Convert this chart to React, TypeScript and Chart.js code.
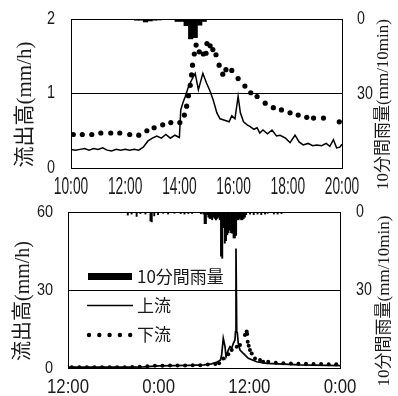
import React, { useEffect, useRef } from "react";
import { Chart, registerables } from "chart.js";

Chart.register(...registerables);

// ---------------- top panel (10:00 - 20:00) ----------------
const topXTicks = ["10:00", "12:00", "14:00", "16:00", "18:00", "20:00"];

const rainTopTimes = ["12:25", "12:35", "12:45", "12:55", "13:05", "13:15", "13:55", "14:05", "14:15", "14:25", "14:35", "14:45", "14:55"];
const rainTopValues = [0.5, 0.5, 1.2, 0.8, 0.5, 0.4, 1.0, 1.0, 2.7, 8.0, 7.5, 2.5, 1.0];

const upTopTimes = [
  "10:00", "10:10", "10:20", "10:30", "10:40", "10:50", "11:00", "11:10", "11:20", "11:30", "11:40", "11:50",
  "12:00", "12:10", "12:20", "12:30", "12:40", "12:50", "13:00", "13:10", "13:20", "13:30", "13:40", "13:50",
  "14:00", "14:03", "14:08", "14:13", "14:20", "14:27", "14:35", "14:42", "14:52", "15:00", "15:08", "15:15",
  "15:23", "15:30", "15:40", "15:50", "15:56", "16:03", "16:10", "16:15", "16:22", "16:30", "16:36", "16:45",
  "16:52", "16:58", "17:05", "17:15", "17:25", "17:35", "17:43", "17:55", "18:05", "18:16", "18:25", "18:34",
  "18:45", "18:55", "19:04", "19:15", "19:25", "19:33", "19:41", "19:48", "19:55", "20:00",
];
const upTopValues = [
  0.25, 0.24, 0.25, 0.26, 0.24, 0.26, 0.25, 0.27, 0.24, 0.23, 0.25, 0.24,
  0.25, 0.24, 0.25, 0.24, 0.28, 0.36, 0.4, 0.43, 0.4, 0.45, 0.4, 0.44,
  0.41, 0.78, 0.88, 0.96, 1.09, 1.18, 1.27, 1.05, 1.27, 1.14, 1.03, 0.91,
  0.74, 0.66, 0.64, 0.62, 0.7, 0.66, 0.96, 0.74, 0.62, 0.58, 0.56, 0.52,
  0.54, 0.47, 0.51, 0.46, 0.51, 0.43, 0.44, 0.4, 0.34, 0.44, 0.35, 0.31,
  0.33, 0.3, 0.31, 0.3, 0.33, 0.29, 0.38, 0.27, 0.28, 0.32,
];

const downTopTimes = [
  "10:05", "10:25", "10:46", "11:06", "11:28", "11:48", "12:10", "12:30", "12:48", "13:04", "13:23", "13:41",
  "14:01", "14:11", "14:16", "14:20", "14:24", "14:27", "14:29", "14:33", "14:37", "14:44", "14:53", "14:59",
  "15:01", "15:08", "15:14", "15:21", "15:28", "15:36", "15:43", "15:56", "16:10", "16:25", "16:38", "16:52",
  "17:10", "17:28", "17:46", "18:05", "18:23", "18:42", "18:57", "19:19", "19:54",
];
const downTopValues = [
  0.45, 0.45, 0.45, 0.47, 0.47, 0.47, 0.45, 0.44, 0.5, 0.54, 0.58, 0.61,
  0.61, 0.71, 0.83, 0.97, 1.11, 1.25, 1.38, 1.53, 1.65, 1.56, 1.53, 1.54,
  1.67, 1.64, 1.59, 1.52, 1.38, 1.26, 1.32, 1.31, 1.2, 1.1, 1.01, 0.96,
  0.87, 0.81, 0.78, 0.74, 0.71, 0.68, 0.67, 0.67, 0.62,
];

// ---------------- bottom panel (day0 12:00 - day2 0:00) ----------------
const botXTicks = ["12:00", "0:00", "12:00", "0:00"];

const rainBotTimes = [
  "0 19:55", "0 20:25", "0 21:05", "0 21:35", "0 22:15", "0 22:55", "0 23:05", "0 23:25", "0 23:55",
  "1 00:35", "1 01:15", "1 02:05", "1 02:55", "1 03:25", "1 03:55", "1 04:25", "1 05:35", "1 05:55",
  "1 06:05", "1 06:15", "1 06:25", "1 06:35", "1 06:45", "1 06:55", "1 07:05", "1 07:15", "1 07:25",
  "1 07:35", "1 07:45", "1 07:55", "1 08:05", "1 08:15", "1 08:25", "1 08:35", "1 08:45", "1 08:55",
  "1 09:05", "1 09:15", "1 09:25", "1 09:35", "1 09:45", "1 09:55", "1 10:05", "1 10:15", "1 10:25",
  "1 10:35", "1 10:45", "1 10:55", "1 11:05", "1 11:15", "1 11:25", "1 11:35", "1 12:05", "1 12:35",
  "1 13:05", "1 13:35", "1 14:05", "1 14:25", "1 15:15", "1 15:45", "1 16:15",
];
const rainBotValues = [
  1.2, 0.8, 1.7, 0.6, 0.8, 3.5, 3.8, 1.5, 1.0,
  0.5, 0.8, 0.5, 0.6, 0.8, 0.6, 0.5, 0.7, 0.8,
  4.5, 4.5, 1.0, 2.0, 2.5, 2.5, 3.0, 2.0, 2.5,
  3.0, 2.5, 2.0, 3.0, 17.0, 17.8, 6.0, 12.0, 11.0,
  8.8, 8.0, 7.0, 8.0, 8.2, 10.0, 10.0, 9.0, 3.0,
  3.0, 2.5, 3.0, 3.0, 2.5, 2.0, 1.0, 0.8, 1.0,
  0.8, 1.0, 0.8, 0.5, 0.8, 0.8, 0.6,
];

const upBotTimes = [
  "0 12:00", "0 14:00", "0 16:00", "0 18:00", "0 20:00", "0 22:00", "0 23:00", "1 00:00", "1 02:00",
  "1 04:00", "1 06:00", "1 07:00", "1 07:40", "1 08:10", "1 08:20", "1 08:33", "1 08:47", "1 08:55",
  "1 09:13", "1 09:26", "1 09:40", "1 09:53", "1 10:06", "1 10:10", "1 10:14", "1 10:20", "1 10:25",
  "1 10:32", "1 10:46", "1 11:12", "1 11:52", "1 12:58", "1 14:18", "1 18:42", "2 00:00",
];
const upBotValues = [
  0.3, 0.3, 0.3, 0.3, 0.3, 0.4, 0.6, 0.8, 0.9,
  1.0, 1.2, 1.6, 2.2, 3.0, 5.0, 11.4, 8.2, 4.3,
  6.9, 8.2, 7.6, 9.5, 10.8, 14.0, 46.0, 14.0, 13.5,
  9.5, 6.9, 5.6, 3.7, 2.4, 1.8, 1.2, 0.9,
];

const downBotTimes = [
  "0 12:30", "0 13:30", "0 14:30", "0 15:30", "0 16:30", "0 17:30", "0 18:30", "0 19:30", "0 20:30",
  "0 21:30", "0 22:30", "0 23:30", "1 00:30", "1 01:30", "1 02:30", "1 03:30", "1 04:30", "1 05:30",
  "1 06:30", "1 07:30", "1 08:00", "1 08:33", "1 09:13", "1 09:40", "1 10:20", "1 10:46", "1 11:25",
  "1 11:39", "1 11:43", "1 11:47", "1 11:55", "1 12:05", "1 12:19", "1 12:45", "1 13:25", "1 13:50",
  "1 14:30", "1 15:30", "1 16:30", "1 17:30", "1 18:30", "1 19:30", "1 20:30", "1 21:30", "1 22:30",
  "1 23:30",
];
const downBotValues = [
  0.3, 0.3, 0.3, 0.3, 0.3, 0.3, 0.3, 0.3, 0.4,
  0.5, 0.7, 0.9, 0.9, 1.0, 1.0, 1.0, 1.1, 1.1,
  1.3, 1.5, 1.8, 3.7, 5.3, 6.9, 8.2, 8.8, 12.7,
  14.0, 13.1, 10.1, 8.6, 6.9, 5.6, 3.7, 3.1, 2.4,
  2.4, 2.0, 1.8, 1.7, 1.6, 1.6, 1.5, 1.5, 1.4,
  1.4,
];

const legendLabels = ["10分間雨量", "上流", "下流"];
const leftTitle = "流出高(mm/h)";
const rightTitle = "10分間雨量(mm/10min)";

// ---------------- helpers ----------------
const hTop = (s: string) => {
  const [h, m] = s.split(":").map(Number);
  return h + m / 60 - 10;
};
const hBot = (s: string) => {
  const [d, hm] = s.split(" ");
  const [h, m] = hm.split(":").map(Number);
  return Number(d) * 24 + h + m / 60 - 12;
};
const pts = (times: string[], vals: number[], f: (s: string) => number) =>
  times.map((t, i) => ({ x: f(t), y: vals[i] }));

type PanelCfg = {
  leftTitleSize: number;
  rightTitleSize: number;
  leftTitleX: number;
  rightTitleX: number;
  titleDy: number;
  xSize: number;
  xSx: number;
  xDy: number;
  ySize: number;
  ySx: number;
  yRight: number;
  y2Size: number;
  y2Sx: number;
  y2Left: number;
  legend: boolean;
};

const TEXT = "#1a1a1a";

function makeTextPlugin(cfg: PanelCfg) {
  return {
    id: "panelText",
    afterDraw(chart: any) {
      const ctx = chart.ctx as CanvasRenderingContext2D;
      const ca = chart.chartArea;
      const num = (text: string, x: number, y: number, size: number, sx: number, align: CanvasTextAlign) => {
        ctx.save();
        ctx.translate(x, y);
        ctx.scale(sx, 1);
        ctx.font = `${size}px "Liberation Sans", sans-serif`;
        ctx.fillStyle = TEXT;
        ctx.textAlign = align;
        ctx.textBaseline = "middle";
        ctx.fillText(text, 0, 0);
        ctx.restore();
      };
      const xs = chart.scales.x;
      xs.ticks.forEach((t: any) => {
        if (t.label === "" || t.label == null) return;
        num(String(t.label), xs.getPixelForValue(t.value), ca.bottom + cfg.xDy, cfg.xSize, cfg.xSx, "center");
      });
      const ys = chart.scales.y;
      ys.ticks.forEach((t: any) => {
        num(String(t.label), cfg.yRight, ys.getPixelForValue(t.value), cfg.ySize, cfg.ySx, "right");
      });
      const y2 = chart.scales.y2;
      y2.ticks.forEach((t: any) => {
        if (t.label === "" || t.label == null) return;
        num(String(t.label), cfg.y2Left, y2.getPixelForValue(t.value), cfg.y2Size, cfg.y2Sx, "left");
      });

      const midY = (ca.top + ca.bottom) / 2 + cfg.titleDy;
      const title = (text: string, x: number, size: number) => {
        ctx.save();
        ctx.translate(x, midY);
        ctx.rotate(-Math.PI / 2);
        ctx.font = `${size}px "Liberation Serif", "Noto Sans CJK JP", serif`;
        ctx.fillStyle = TEXT;
        ctx.textAlign = "center";
        ctx.textBaseline = "middle";
        ctx.fillText(text, 0, 0);
        ctx.restore();
      };
      title(leftTitle, cfg.leftTitleX, cfg.leftTitleSize);
      title(rightTitle, cfg.rightTitleX, cfg.rightTitleSize);

      if (cfg.legend) {
        const x0 = ca.left + 20;
        const rows = [ca.top + 64.5, ca.top + 93.5, ca.top + 123];
        ctx.save();
        ctx.fillStyle = "#000";
        ctx.fillRect(x0, rows[0] - 3.5, 44, 7);
        ctx.strokeStyle = "#000";
        ctx.lineWidth = 1.5;
        ctx.beginPath();
        ctx.moveTo(x0 - 1, rows[1]);
        ctx.lineTo(x0 + 45, rows[1]);
        ctx.stroke();
        for (let i = 0; i < 5; i++) {
          ctx.beginPath();
          ctx.arc(x0 + 1 + i * 10.3, rows[2], 2.2, 0, Math.PI * 2);
          ctx.fill();
        }
        ctx.font = `17px "Noto Sans CJK JP", sans-serif`;
        ctx.fillStyle = TEXT;
        ctx.textAlign = "left";
        ctx.textBaseline = "middle";
        legendLabels.forEach((l, i) => ctx.fillText(l, ca.left + 69, rows[i]));
        ctx.restore();
      }
    },
  };
}

type BuildArgs = {
  xMax: number;
  xStep: number;
  xTicks: string[];
  yMax: number;
  yStep: number;
  leftW: number;
  rightW: number;
  topPad: number;
  bottomH: number;
  rain: { x: number; y: number }[];
  up: { x: number; y: number }[];
  down: { x: number; y: number }[];
  upWidth: number;
  dotR: number;
  cfg: PanelCfg;
};

function buildConfig(a: BuildArgs): any {
  return {
    type: "line",
    data: {
      datasets: [
        {
          type: "bar",
          label: legendLabels[0],
          data: a.rain,
          yAxisID: "y2",
          backgroundColor: "#000",
          borderWidth: 0,
          barPercentage: 1,
          categoryPercentage: 1,
          order: 3,
        },
        {
          type: "line",
          label: legendLabels[1],
          data: a.up,
          yAxisID: "y",
          borderColor: "#000",
          borderWidth: a.upWidth,
          pointRadius: 0,
          tension: 0,
          fill: false,
          order: 2,
        },
        {
          type: "line",
          label: legendLabels[2],
          data: a.down,
          yAxisID: "y",
          showLine: false,
          pointRadius: a.dotR,
          pointBackgroundColor: "#000",
          pointBorderWidth: 0,
          order: 1,
        },
      ],
    },
    options: {
      responsive: false,
      animation: false,
      devicePixelRatio: 1,
      layout: { padding: { top: a.topPad, bottom: 0, left: 0, right: 0 } },
      plugins: { legend: { display: false }, tooltip: { enabled: false } },
      scales: {
        x: {
          type: "linear",
          min: 0,
          max: a.xMax,
          offset: false,
          ticks: {
            display: false,
            stepSize: a.xStep,
            callback: (v: number) => a.xTicks[Math.round(v / a.xStep)] ?? "",
          },
          grid: { display: false },
          border: { display: true, color: "#000", width: 1 },
          afterFit: (s: any) => {
            s.height = a.bottomH;
          },
        },
        y: {
          type: "linear",
          position: "left",
          min: 0,
          max: a.yMax,
          ticks: { display: false, stepSize: a.yStep },
          grid: { color: "#000", lineWidth: 1, drawTicks: false },
          border: { display: true, color: "#000", width: 1 },
          afterFit: (s: any) => {
            s.width = a.leftW;
          },
        },
        y2: {
          type: "linear",
          position: "right",
          min: 0,
          max: 60,
          reverse: true,
          ticks: {
            display: false,
            stepSize: 30,
            callback: (v: number) => (v === 60 ? "" : String(v)),
          },
          grid: { display: false },
          border: { display: true, color: "#000", width: 1 },
          afterFit: (s: any) => {
            s.width = a.rightW;
          },
        },
      },
    },
    plugins: [makeTextPlugin(a.cfg)],
  };
}

function Panel({ build }: { build: () => any }) {
  const ref = useRef<HTMLCanvasElement>(null);
  useEffect(() => {
    const chart = new Chart(ref.current as HTMLCanvasElement, build());
    return () => chart.destroy();
  }, []);
  return <canvas ref={ref} width={398} height={198} style={{ display: "block", width: 398, height: 198 }} />;
}

const topBuild = () =>
  buildConfig({
    xMax: 10,
    xStep: 2,
    xTicks: topXTicks,
    yMax: 2,
    yStep: 1,
    leftW: 71,
    rightW: 56,
    topPad: 19,
    bottomH: 30,
    rain: pts(rainTopTimes, rainTopValues, hTop),
    up: pts(upTopTimes, upTopValues, hTop),
    down: pts(downTopTimes, downTopValues, hTop),
    upWidth: 1.5,
    dotR: 2.6,
    cfg: {
      leftTitleSize: 21,
      rightTitleSize: 17,
      leftTitleX: 25,
      rightTitleX: 384,
      titleDy: 11,
      xSize: 23,
      xSx: 0.6,
      xDy: 20,
      ySize: 18,
      ySx: 0.8,
      yRight: 55,
      y2Size: 19,
      y2Sx: 0.75,
      y2Left: 357,
      legend: false,
    },
  });

const botBuild = () =>
  buildConfig({
    xMax: 36,
    xStep: 12,
    xTicks: botXTicks,
    yMax: 60,
    yStep: 30,
    leftW: 68,
    rightW: 58,
    topPad: 14,
    bottomH: 28,
    rain: pts(rainBotTimes, rainBotValues, hBot),
    up: pts(upBotTimes, upBotValues, hBot),
    down: pts(downBotTimes, downBotValues, hBot),
    upWidth: 1.7,
    dotR: 2.0,
    cfg: {
      leftTitleSize: 20,
      rightTitleSize: 17,
      leftTitleX: 24,
      rightTitleX: 385,
      titleDy: 11,
      xSize: 21,
      xSx: 0.8,
      xDy: 19,
      ySize: 17,
      ySx: 0.85,
      yRight: 53,
      y2Size: 19,
      y2Sx: 0.75,
      y2Left: 356,
      legend: true,
    },
  });

export default function App() {
  return (
    <div style={{ position: "absolute", left: 0, top: 0, width: 398, height: 396, background: "#fff" }}>
      <Panel build={topBuild} />
      <Panel build={botBuild} />
    </div>
  );
}
